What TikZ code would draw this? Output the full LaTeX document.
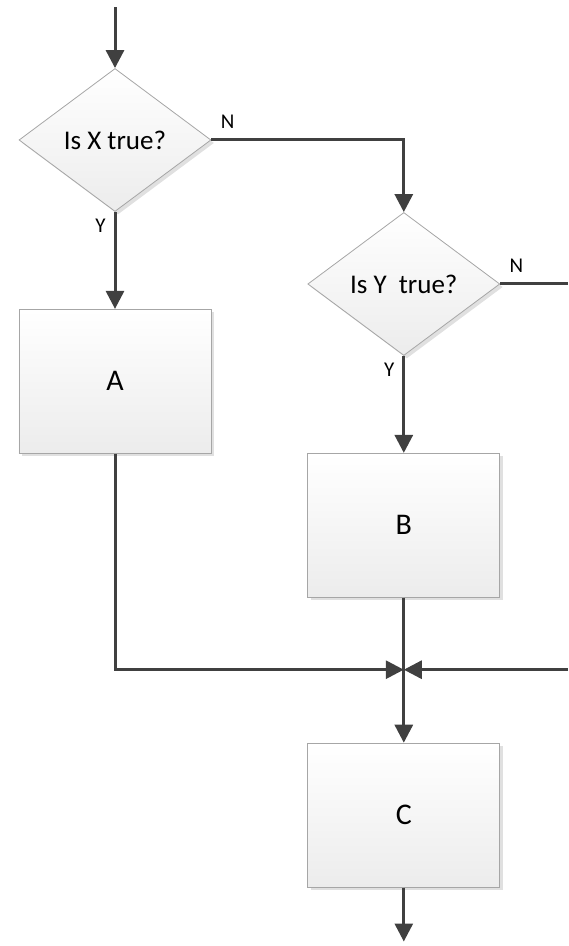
\documentclass[tikz,border=0pt]{standalone}
\usepackage{fontspec}
\setmainfont{Carlito}
\usetikzlibrary{arrows.meta,positioning,shapes.geometric,shadows}

\definecolor{lineGray}{HTML}{404040}
\definecolor{edgeGray}{HTML}{A6A6A6}
\definecolor{fillGray}{HTML}{ECECEC}

\begin{document}
\begin{tikzpicture}[
    line/.style={
        draw=lineGray,
        line width=1.5pt
    },
    arrow/.style={line, -{Triangle[length=9pt, width=9pt]}},
    decision/.style={
        diamond,
        draw=edgeGray,
        line width=0.4pt,
        top color=white,
        bottom color=fillGray,
        inner sep=0pt,
        minimum width=96pt,
        minimum height=71.5pt,
        font=\fontsize{13.5}{15}\selectfont,
        drop shadow={shadow xshift=1.5pt, shadow yshift=-1.5pt, fill=black, opacity=0.12}
    },
    stepbox/.style={
        rectangle,
        draw=edgeGray,
        line width=0.4pt,
        top color=white,
        bottom color=fillGray,
        minimum width=96pt,
        minimum height=72pt,
        font=\fontsize{15}{17}\selectfont,
        drop shadow={shadow xshift=1.5pt, shadow yshift=-1.5pt, fill=black, opacity=0.12}
    },
    branch/.style={font=\fontsize{10.5}{12}\selectfont, inner sep=1pt}
]

\node[decision] (isx) at (0,0) {Is X true?};
\node[decision, right=48pt of isx, yshift=-72pt] (isy) {Is Y\ \ true?};
\node[stepbox, below=48.5pt of isx] (A) {A};
\node[stepbox, below=48.5pt of isy] (B) {B};
\node[stepbox, below=72.5pt of B] (C) {C};

\coordinate[above=30.5pt of isx] (in);
\coordinate[below=36pt of B] (join);
\coordinate[below=27pt of C] (out);
\coordinate (rim) at ([xshift=226.5pt]isx.center);
\coordinate (rimy) at (rim |- isy.east);
\coordinate (rimjoin) at (rim |- join);

\path[use as bounding box] ([xshift=-57.5pt, yshift=70pt]isx.center) rectangle ++(284pt,-473pt);

\draw[arrow] (in) -- (isx);
\draw[arrow] (isx.east) node[branch, anchor=south west, xshift=3pt, yshift=4pt] {N} -| (isy.north);
\draw[arrow] (isx.south) node[branch, anchor=north east, xshift=-3pt, yshift=-2pt] {Y} -- (A);
\draw[line] (isy.east) node[branch, anchor=south west, xshift=3pt, yshift=4pt] {N} -- (rimy);
\draw[arrow] (isy.south) node[branch, anchor=north east, xshift=-3pt, yshift=-2pt] {Y} -- (B);
\draw[arrow] (A.south) |- (join);
\draw[arrow] (rimjoin) -- (join);
\draw[line] (B.south) -- (join);
\draw[arrow] (join) -- (C);
\draw[arrow] (C) -- (out);

\end{tikzpicture}
\end{document}
